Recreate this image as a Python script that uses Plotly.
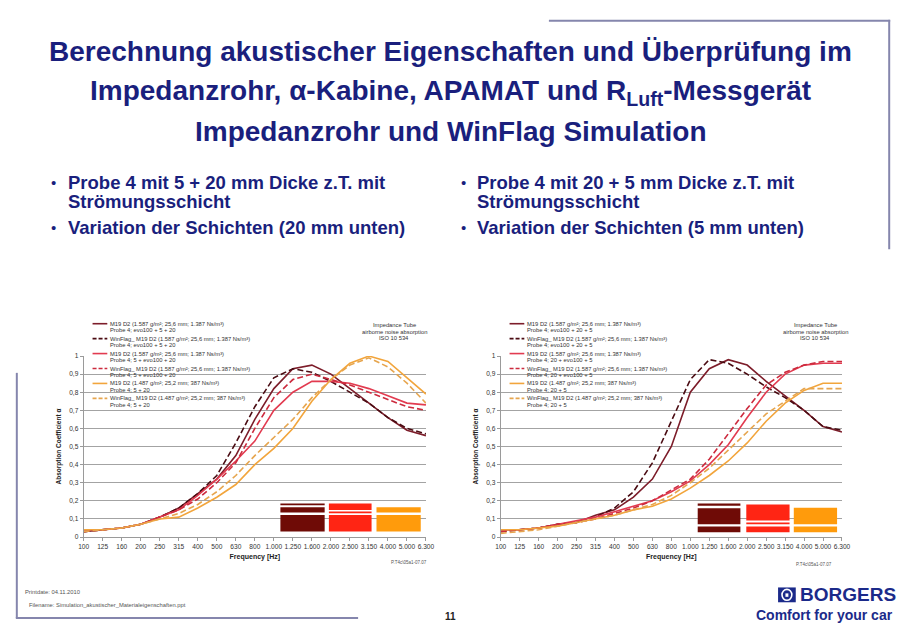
import plotly.graph_objects as go

W, H = 910, 630

# ---------------- data ----------------
freq_labels = ["100", "125", "160", "200", "250", "315", "400", "500", "630", "800",
               "1.000", "1.250", "1.600", "2.000", "2.500", "3.150", "4.000", "5.000", "6.300"]
y_tick_vals = [0, 0.1, 0.2, 0.3, 0.4, 0.5, 0.6, 0.7, 0.8, 0.9, 1.0]
y_tick_text = ["0", "0,1", "0,2", "0,3", "0,4", "0,5", "0,6", "0,7", "0,8", "0,9", "1"]

# left chart: Probe 4, 5 + 20 mm
left_meas_evo_5_20 = [0.03, 0.04, 0.05, 0.07, 0.11, 0.16, 0.24, 0.32, 0.45, 0.65,
                      0.82, 0.93, 0.95, 0.90, 0.82, 0.74, 0.66, 0.59, 0.56]
left_sim_evo_5_20 = [0.03, 0.04, 0.05, 0.07, 0.11, 0.16, 0.24, 0.34, 0.52, 0.72,
                     0.88, 0.93, 0.91, 0.86, 0.80, 0.74, 0.66, 0.60, 0.57]
left_meas_5_evo_20 = [0.04, 0.04, 0.05, 0.07, 0.11, 0.15, 0.23, 0.32, 0.42, 0.53,
                      0.70, 0.80, 0.86, 0.86, 0.85, 0.82, 0.78, 0.74, 0.73]
left_sim_5_evo_20 = [0.03, 0.04, 0.05, 0.07, 0.11, 0.15, 0.21, 0.30, 0.41, 0.60,
                     0.77, 0.87, 0.90, 0.87, 0.84, 0.80, 0.76, 0.72, 0.70]
left_meas_5_20 = [0.04, 0.04, 0.05, 0.07, 0.10, 0.11, 0.16, 0.22, 0.29, 0.40,
                  0.49, 0.60, 0.75, 0.87, 0.96, 1.00, 0.97, 0.88, 0.79]
left_sim_5_20 = [0.03, 0.04, 0.05, 0.07, 0.10, 0.13, 0.18, 0.25, 0.34, 0.45,
                 0.55, 0.65, 0.77, 0.87, 0.95, 0.99, 0.94, 0.85, 0.74]

# right chart: Probe 4, 20 + 5 mm
right_meas_evo_20_5 = [0.04, 0.04, 0.05, 0.07, 0.08, 0.12, 0.15, 0.22, 0.32, 0.50,
                       0.80, 0.93, 0.98, 0.95, 0.86, 0.78, 0.70, 0.61, 0.58]
right_sim_evo_20_5 = [0.03, 0.04, 0.05, 0.07, 0.08, 0.11, 0.16, 0.25, 0.41, 0.64,
                      0.87, 0.98, 0.96, 0.90, 0.83, 0.77, 0.70, 0.61, 0.59]
right_meas_20_evo_5 = [0.04, 0.04, 0.05, 0.07, 0.09, 0.11, 0.14, 0.17, 0.20, 0.25,
                       0.31, 0.40, 0.51, 0.66, 0.80, 0.90, 0.95, 0.96, 0.96]
right_sim_20_evo_5 = [0.03, 0.04, 0.05, 0.07, 0.08, 0.10, 0.13, 0.16, 0.20, 0.26,
                      0.32, 0.43, 0.57, 0.71, 0.84, 0.91, 0.95, 0.97, 0.97]
right_meas_20_5 = [0.04, 0.04, 0.05, 0.06, 0.08, 0.10, 0.12, 0.15, 0.17, 0.21,
                   0.27, 0.34, 0.42, 0.52, 0.64, 0.74, 0.81, 0.85, 0.85]
right_sim_20_5 = [0.02, 0.03, 0.04, 0.06, 0.08, 0.10, 0.12, 0.15, 0.18, 0.23,
                  0.30, 0.38, 0.48, 0.58, 0.68, 0.75, 0.82, 0.82, 0.82]

mat_a = "M19 D2 (1.587 g/m²; 25,6 mm; 1.387 Ns/m³)"
mat_b = "M19 D2 (1.487 g/m²; 25,2 mm; 387 Ns/m³)"
left_names = [
    (mat_a, "Probe 4; evo100 + 5 + 20"),
    ("WinFlag_ " + mat_a, "Probe 4; evo100 + 5 + 20"),
    (mat_a, "Probe 4; 5 + evo100 + 20"),
    ("WinFlag_ " + mat_a, "Probe 4; 5 + evo100 + 20"),
    (mat_b, "Probe 4; 5 + 20"),
    ("WinFlag_ " + mat_b, "Probe 4; 5 + 20"),
]
right_names = [
    (mat_a, "Probe 4; evo100 + 20 + 5"),
    ("WinFlag_ " + mat_a, "Probe 4; evo100 + 20 + 5"),
    (mat_a, "Probe 4; 20 + evo100 + 5"),
    ("WinFlag_ " + mat_a, "Probe 4; 20 + evo100 + 5"),
    (mat_b, "Probe 4; 20 + 5"),
    ("WinFlag_ " + mat_b, "Probe 4; 20 + 5"),
]
left_series = [left_meas_evo_5_20, left_sim_evo_5_20, left_meas_5_evo_20,
               left_sim_5_evo_20, left_meas_5_20, left_sim_5_20]
right_series = [right_meas_evo_20_5, right_sim_evo_20_5, right_meas_20_evo_5,
                right_sim_20_evo_5, right_meas_20_5, right_sim_20_5]

# ---------------- styles ----------------
NAVY = "#1a1f7d"
BLUE = "#1b2a8a"
FRAME = "#8586ad"
series_colors = ["#7d1d2a", "#4a0b12", "#e23b50", "#cc2b3e", "#f2a53c", "#e6a54e"]
series_dash = ["solid", "6px,3px", "solid", "6px,3px", "solid", "6px,3px"]
FONT = "Liberation Sans, Arial, sans-serif"


def px(x):
    return x / W


def py(y):
    return 1 - y / H


fig = go.Figure()

xi = list(range(len(freq_labels)))
for k, (series_list, names, ax) in enumerate([(left_series, left_names, ""),
                                              (right_series, right_names, "2")]):
    for i, vals in enumerate(series_list):
        fig.add_trace(go.Scatter(
            x=xi, y=vals, mode="lines", xaxis="x" + ax, yaxis="y" + ax,
            line=dict(color=series_colors[i], width=1.6, dash=series_dash[i]),
            name=names[i][0] + " " + names[i][1], showlegend=False,
            hoverinfo="skip"))

# chart geometry (pixels)
charts = [
    dict(x0=79, x1=427, leg_x=88, info_x=395, code_x=410, code_y=565),
    dict(x0=503, x1=850, leg_x=512, info_x=823, code_x=822, code_y=567),
]
PLOT_TOP, PLOT_BOT = 356, 539

axis_common_x = dict(range=[0, len(freq_labels) - 1], tickmode="array", tickvals=xi,
                     ticktext=freq_labels, tickangle=0, showgrid=False, showline=True,
                     linecolor="#9a9a9a", linewidth=1, ticks="outside", ticklen=3,
                     tickcolor="#9a9a9a", tickfont=dict(size=6.6, color="#333", family=FONT),
                     zeroline=False, fixedrange=True,
                     title=dict(text="<b>Frequency [Hz]</b>",
                                font=dict(size=7, color="#222", family=FONT), standoff=5))
axis_common_y = dict(range=[0, 1], tickmode="array", tickvals=y_tick_vals,
                     ticktext=y_tick_text, showgrid=True, gridcolor="#a3a3a3",
                     gridwidth=1, showline=True, linecolor="#9a9a9a", linewidth=1,
                     ticks="outside", ticklen=3, tickcolor="#9a9a9a",
                     tickfont=dict(size=6.6, color="#333", family=FONT),
                     zeroline=False, fixedrange=True,
                     title=dict(text="<b>Absorption Coefficient α</b>",
                                font=dict(size=6.5, color="#222", family=FONT), standoff=6))

layout = dict(
    width=W, height=H, autosize=False,
    margin=dict(l=0, r=0, t=0, b=0),
    paper_bgcolor="white", plot_bgcolor="white",
    font=dict(family=FONT, color="#333"),
    showlegend=False,
)
for k, c in enumerate(charts):
    sfx = "" if k == 0 else "2"
    xa = dict(axis_common_x, domain=[px(c["x0"]), px(c["x1"])], anchor="y" + sfx)
    ya = dict(axis_common_y, domain=[py(PLOT_BOT), py(PLOT_TOP)], anchor="x" + sfx)
    layout["xaxis" + sfx] = xa
    layout["yaxis" + sfx] = ya
fig.update_layout(**layout)

annotations = []
shapes = []


def text(x, y, s, size, color="#333", xanchor="left", yanchor="middle", bold=False,
         family=FONT, textangle=0):
    annotations.append(dict(
        x=px(x), y=py(y), xref="paper", yref="paper", text=("<b>%s</b>" % s) if bold else s,
        showarrow=False, xanchor=xanchor, yanchor=yanchor, textangle=textangle,
        borderpad=0, font=dict(size=size, color=color, family=family)))


def rect(x0, y0, x1, y1, color, line_color=None, lw=0):
    shapes.append(dict(type="rect", xref="paper", yref="paper",
                       x0=px(x0), x1=px(x1), y0=py(y1), y1=py(y0),
                       fillcolor=color, line=dict(width=lw, color=line_color or color)))


def line(x0, y0, x1, y1, color, width=1, dash="solid"):
    shapes.append(dict(type="line", xref="paper", yref="paper",
                       x0=px(x0), x1=px(x1), y0=py(y0), y1=py(y1),
                       line=dict(color=color, width=width, dash=dash)))


# title
title_lines = ["Berechnung akustischer Eigenschaften und Überprüfung im",
               "Impedanzrohr, α-Kabine, APAMAT und R<sub>Luft</sub>-Messgerät",
               "Impedanzrohr und WinFlag Simulation"]
for j, (t, yy) in enumerate(zip(title_lines, [48, 89, 129])):
    text(452, yy, t, 28, NAVY, xanchor="center", bold=True)

# bullets
bullets_left = [("Probe 4 mit 5 + 20 mm Dicke z.T. mit", "Strömungsschicht"),
                ("Variation der Schichten (20 mm unten)", None)]
bullets_right = [("Probe 4 mit 20 + 5 mm Dicke z.T. mit", "Strömungsschicht"),
                 ("Variation der Schichten (5 mm unten)", None)]
for bx, tx, bl in [(45, 62, bullets_left), (462, 478, bullets_right)]:
    y_b = [180, 226]
    for (l1, l2), yy in zip(bl, y_b):
        text(bx, yy, "•", 15, NAVY, xanchor="left")
        text(tx, yy, l1, 18.5, NAVY, bold=True)
        if l2:
            text(tx, yy + 19.5, l2, 18.5, NAVY, bold=True)

# legends & chart annotations
for k, (c, names) in enumerate(zip(charts, [left_names, right_names])):
    for i, (n1, n2) in enumerate(names):
        yy = 323.3 + i * 15.1
        line(c["leg_x"], yy, c["leg_x"] + 15, yy, series_colors[i], 1.6,
             "solid" if series_dash[i] == "solid" else "4px,2px")
        text(c["leg_x"] + 17, yy, n1, 5.8, "#333")
        text(c["leg_x"] + 17, yy + 6.5, n2, 5.8, "#333")
    for j, s in enumerate(["Impedance Tube", "airborne noise absorption", "ISO 10 534"]):
        text(c["info_x"], 324.5 + j * 6.8, s, 5.8, "#333", xanchor="center")
    text(c["code_x"], c["code_y"], "P.T4c\\05a1-07.07", 4.5, "#555", xanchor="center")

# layer-structure icons (decoration)
DARK, RED, ORANGE = "#6f0b06", "#ff2514", "#ff9b0c"
icons = [
    (279, 324, DARK, [(505, 507), (509, 514.3), (516.7, 533.5)]),
    (328.3, 371.7, RED, [(505, 511.7), (513.3, 515), (516.7, 533.5)]),
    (376.7, 421.7, ORANGE, [(509, 514.3), (516.7, 533.5)]),
    (703.3, 746.7, DARK, [(505, 507.3), (510, 526), (528.3, 534.3)]),
    (752.7, 796.7, RED, [(506, 522.3), (524.3, 526), (528.3, 534.3)]),
    (801, 845, ORANGE, [(509.3, 526), (528.3, 534.3)]),
]
for x0, x1, col, bands in icons:
    for (y0, y1) in bands:
        rect(x0, y0, x1, y1, col)

# slide frame lines
line(11, 373, 11, 621, FRAME, 2)
line(10, 621, 358, 621, FRAME, 2)
line(552, 17, 899, 17, FRAME, 2)
line(898, 16, 898, 248, FRAME, 2)

# footer
text(18, 595, "Printdate: 04.11.2010", 5.8, "#555")
text(22, 608, "Filename: Simulation_akustischer_Materialeigenschaften.ppt", 5.8, "#555")
text(452, 619, "11", 10, "#222", xanchor="center", bold=True)
rect(785, 590, 803, 605, BLUE)
shapes.append(dict(type="circle", xref="paper", yref="paper",
                   x0=px(789), x1=px(799), y0=py(603), y1=py(592),
                   line=dict(color="white", width=1.6)))
rect(792.5, 596, 795.5, 599.5, "white")
text(806, 597.5, "BORGERS", 19, BLUE, bold=True)
text(762, 618, "Comfort for your car", 14, BLUE, bold=True)

fig.update_layout(annotations=annotations, shapes=shapes)
fig.write_html(
    "out.html",
    config={"displayModeBar": False, "staticPlot": True},
    post_script=("document.documentElement.style.margin='0';"
                 "document.body.style.margin='0';"
                 "document.body.style.overflow='hidden';"),
)
